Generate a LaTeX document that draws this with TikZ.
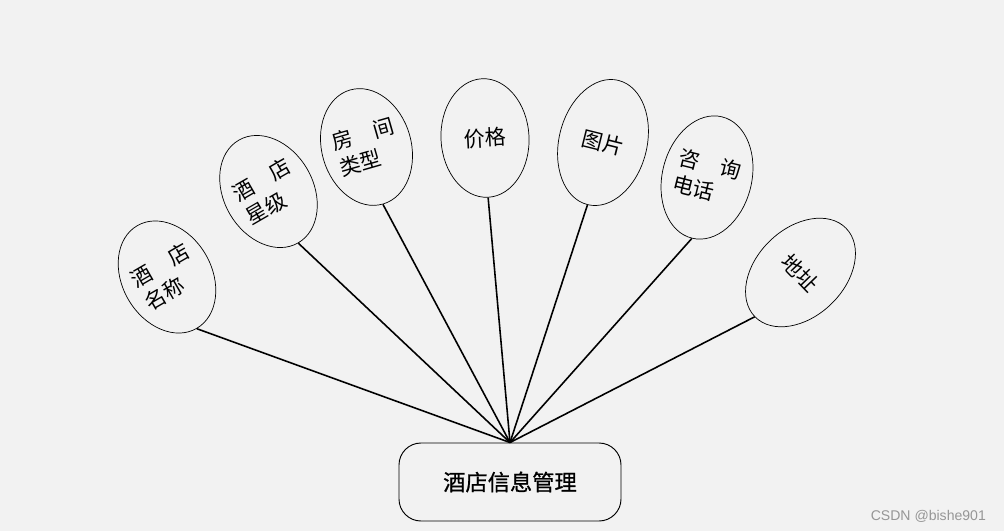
\documentclass[tikz,border=0pt]{standalone}
\usepackage{fontspec}
\newfontfamily\cjk{Noto Sans CJK SC}
\newfontfamily\cjkmid[FakeBold=0.8]{Noto Sans CJK SC}
\newfontfamily\wmfont{Liberation Sans}
\usetikzlibrary{shapes.geometric,positioning}
\definecolor{bgGray}{RGB}{242,242,242}
\definecolor{markGray}{RGB}{150,150,150}
\tikzset{
    attrblock/.style={ellipse, draw=black, line width=0.6pt, inner sep=0pt,
        minimum width=2.64cm, minimum height=3.56cm,
        font=\cjk\fontsize{18}{23}\selectfont, align=left},
    mainblock/.style={rectangle, rounded corners=0.66cm, draw=black, line width=0.8pt,
        minimum width=6.66cm, minimum height=2.34cm,
        font=\cjkmid\fontsize{19}{23}\selectfont},
    conn/.style={line width=1.35pt, black},
}

\begin{document}
\begin{tikzpicture}[x=0.03cm, y=-0.03cm]

% Canvas
\fill[bgGray] (0,0) rectangle (1004,531);

% Main entity
\node[mainblock] (hotel) at (510,482) {酒店信息管理};

% Attributes
\node[attrblock, rotate=30] (name) at (167,277) {酒\hspace{1em}店\\名称};
\node[attrblock, rotate=30] (star) at (268.5,191.5) {酒\hspace{1em}店\\星级};
\node[attrblock, rotate=16] (room) at (366.5,147) {房\hspace{1em}间\\类型};
\node[attrblock, rotate=3] (price) at (485,138) {价格};
\node[attrblock, rotate=-14, minimum height=3.84cm] (photo) at (603,142.5) {图片};
\node[attrblock, rotate=-14, minimum height=3.75cm] (phone) at (707,177.5) {咨\hspace{1em}询\\电话};
\node[attrblock, rotate=-46, minimum height=3.81cm] (addr) at (800.5,272.5) {地址};

% Links
\foreach \a in {name,star,room,price,photo,phone,addr}
    \draw[conn] (\a.south) -- (hotel.north);

% Watermark
\node[font=\wmfont\fontsize{12}{14}\selectfont, text=markGray, anchor=east] (mark)
    at (990,516) {CSDN @bishe901};

\end{tikzpicture}
\end{document}
